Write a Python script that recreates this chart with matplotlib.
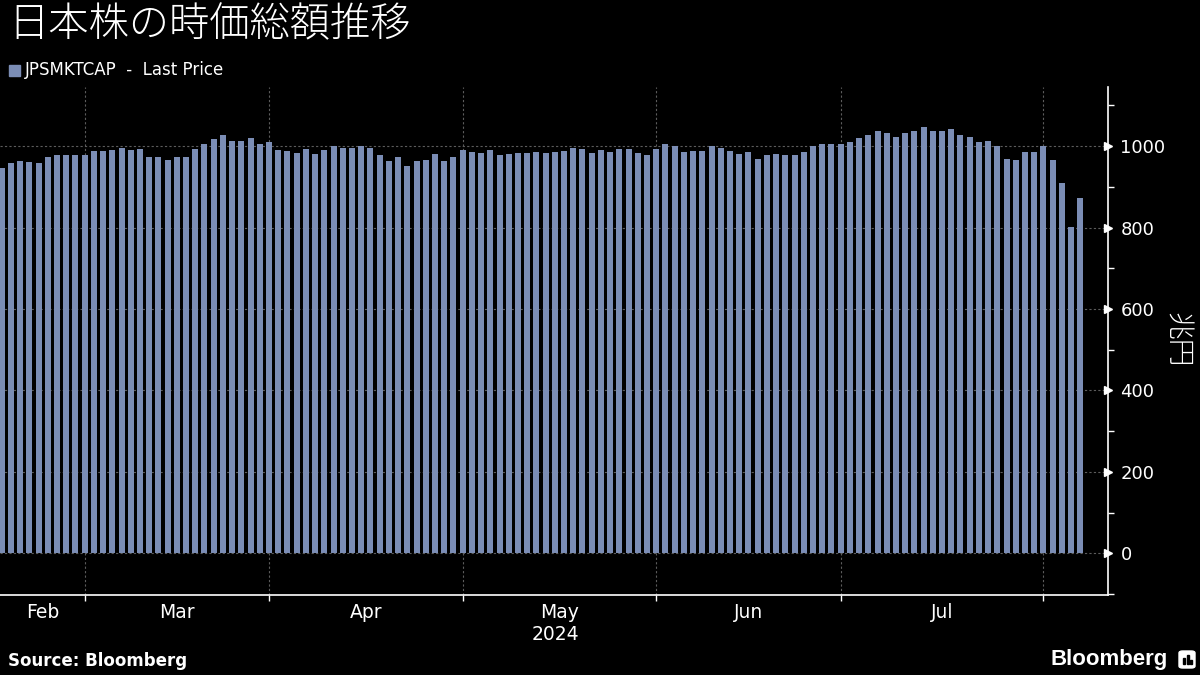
import numpy as np
import matplotlib
matplotlib.use("Agg")
import matplotlib.pyplot as plt
import matplotlib.transforms as mtransforms
from matplotlib.patches import FancyBboxPatch, Rectangle

plt.rcParams['font.family'] = ['DejaVu Sans', 'Noto Sans CJK JP']

# データ (兆円), 2024/2/15 - 2024/8/6 の営業日
feb = [947, 959, 964, 962, 959, 972, 977, 979, 979, 977]
mar = [989, 989, 991, 996, 991, 994, 972, 972, 967, 972,
       974, 994, 1004, 1018, 1026, 1013, 1013, 1021, 1004, 1009]
apr = [991, 989, 984, 994, 981, 991, 999, 996, 996, 1001,
       996, 977, 964, 972, 952, 964, 967, 981, 964, 974, 991]
may = [986, 984, 991, 979, 981, 984, 984, 986, 984, 986,
       989, 996, 994, 984, 991, 986, 994, 994, 984, 979, 994]
jun = [1004, 999, 986, 989, 989, 999, 996, 989, 981, 986,
       969, 977, 981, 979, 979, 986, 1001, 1006, 1004, 1006]
jul = [1009, 1021, 1026, 1036, 1031, 1023, 1033, 1038, 1046, 1036, 1038,
       1041, 1026, 1023, 1011, 1013, 999, 969, 967, 986, 986, 1000]
aug = [967, 910, 802, 873]

month_labels = ['Feb', 'Mar', 'Apr', 'May', 'Jun', 'Jul']
months_data = [feb, mar, apr, may, jun, jul, aug]

values = np.concatenate(months_data)
x = np.arange(len(values))

# 月の区切り (各月の最終営業日)
counts = np.array([len(m) for m in months_data])
bounds = np.cumsum(counts)[:-1] - 1

bar_color = '#7b8db5'
grid_color = '#5c5c5c'

fig = plt.figure(figsize=(12, 6.75), dpi=100, facecolor='black')
ax = fig.add_axes([0, 80 / 675, 1108 / 1200, 508 / 675])
ax.set_facecolor('black')

ax.bar(x, values, width=0.65, color=bar_color, zorder=2)

ax.set_xlim(-0.18, 120.0)
ax.set_ylim(-102, 1145)

# x軸
ax.set_xticks(bounds)
ax.set_xticklabels([])
edges = np.concatenate([[-0.18], bounds])
mids = (edges[:-1] + edges[1:]) / 2
ax.set_xticks(mids, minor=True)
ax.set_xticklabels(month_labels, minor=True)
ax.tick_params(axis='x', which='major', length=4, width=1, color='white', direction='out')
ax.tick_params(axis='x', which='minor', length=0, pad=6, labelsize=13.5, labelcolor='white')

# y軸 (右側)
ax.yaxis.tick_right()
ax.set_yticks(np.arange(0, 1001, 200))
ax.set_yticks(np.arange(-100, 1101, 200), minor=True)
ax.tick_params(axis='y', which='major', length=0, pad=9, labelsize=13, labelcolor='white')
ax.tick_params(axis='y', which='minor', length=4, width=1, color='white', direction='out')
trans = mtransforms.blended_transform_factory(ax.transAxes, ax.transData)
ax.plot(np.ones(6), np.arange(0, 1001, 200), linestyle='none', marker='>',
        markersize=6, color='white', transform=trans, clip_on=False, zorder=5)

ax.grid(True, which='major', color=grid_color, linestyle=(0, (2, 2)), linewidth=0.8)
ax.set_axisbelow(True)

for s in ['top', 'left']:
    ax.spines[s].set_visible(False)
for s in ['bottom', 'right']:
    ax.spines[s].set_color('white')
    ax.spines[s].set_linewidth(1.2)

# タイトル・凡例
fig.text(8 / 1200, 1 - 25 / 675, '日本株の時価総額推移', color='white', fontsize=29,
         family='Noto Sans CJK JP', fontweight='light', va='center', ha='left')
fig.patches.append(Rectangle((9 / 1200, 1 - 76 / 675), 11 / 1200, 11 / 675,
                             transform=fig.transFigure, color=bar_color))
fig.text(25 / 1200, 1 - 70 / 675, 'JPSMKTCAP  -  Last Price', color='white', fontsize=12,
         va='center', ha='left')

fig.text(1177 / 1200, 1 - 340 / 675, '兆円', color='white', fontsize=20,
         family='Noto Sans CJK JP', fontweight='light', rotation=-90,
         va='center', ha='center')

fig.text(555 / 1200, 1 - 634 / 675, '2024', color='white', fontsize=13.5,
         va='center', ha='center')

fig.text(8 / 1200, 1 - 661 / 675, 'Source: Bloomberg', color='white', fontsize=12,
         fontweight='bold', va='center', ha='left')

fig.text(1168 / 1200, 1 - 660 / 675, 'Bloomberg', color='white', fontsize=16,
         family='Liberation Sans', fontweight='bold', va='center', ha='right')
fig.patches.append(FancyBboxPatch((1179 / 1200, 1 - 668 / 675), 16 / 1200, 17 / 675,
                                  boxstyle='round,pad=0,rounding_size=0.003',
                                  transform=fig.transFigure, color='white'))
for bx, bh in [(1183, 6), (1186.5, 9), (1190, 4)]:
    fig.patches.append(Rectangle((bx / 1200, 1 - 664 / 675), 2 / 1200, bh / 675,
                                 transform=fig.transFigure, color='black'))

fig.savefig('out.png', dpi=100, facecolor='black')
